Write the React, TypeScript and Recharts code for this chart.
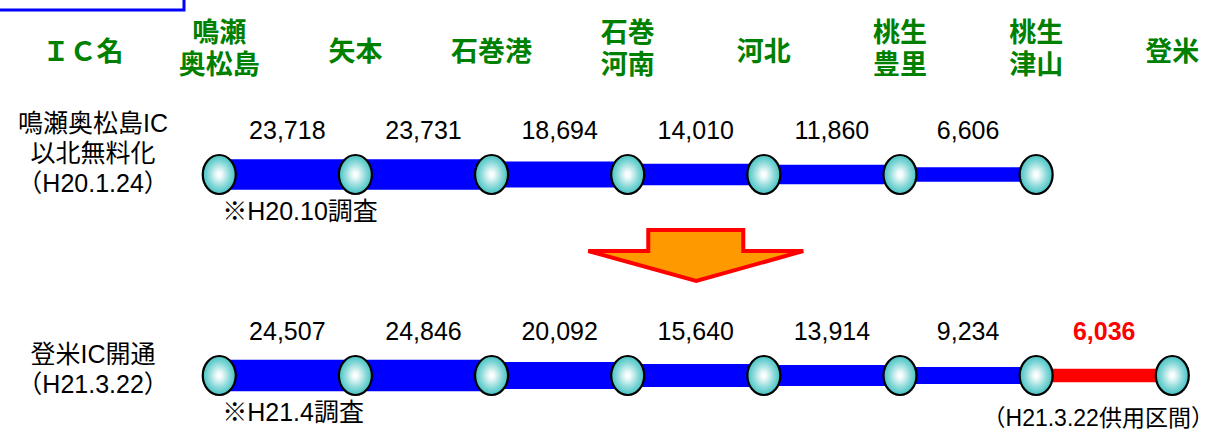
import React from 'react';
import { ComposedChart, XAxis, YAxis, Line, Scatter, Customized } from 'recharts';

// ---------- data ----------
const icNames = ['ＩＣ名', '鳴瀬\n奥松島', '矢本', '石巻港', '石巻\n河南', '河北', '桃生\n豊里', '桃生\n津山', '登米'];
const icIndex = [0, 1, 2, 3, 4, 5, 6, 7, 8];

const rowLabels = [
  ['鳴瀬奥松島IC', '以北無料化', '（H20.1.24）'],
  ['登米IC開通', '（H21.3.22）'],
];

// traffic volume (vehicles/day) per section, starting at 鳴瀬奥松島 (IC index 1)
const beforeValues = [23718, 23731, 18694, 14010, 11860, 6606];
const afterValues = [24507, 24846, 20092, 15640, 13914, 9234, 6036];
// section status: 'existing' or 'new' (opened H21.3.22)
const beforeStatus = ['existing', 'existing', 'existing', 'existing', 'existing', 'existing'];
const afterStatus = ['existing', 'existing', 'existing', 'existing', 'existing', 'existing', 'new'];

const notes = [
  { row: 0, at: 1, text: '※H20.10調査', kind: 'survey' },
  { row: 1, at: 1, text: '※H21.4調査', kind: 'survey' },
  { row: 1, at: 7.5, text: '（H21.3.22供用区間）', kind: 'section' },
];

// ---------- derived ----------
const rows = [
  { values: beforeValues, status: beforeStatus },
  { values: afterValues, status: afterStatus },
];

const thickness = (v: number) => 8 + 0.00095 * v;

const segments = rows.flatMap((r, ri) =>
  r.values.map((v, i) => ({
    key: `s${ri}-${i}`,
    value: v,
    status: r.status[i],
    data: [
      { x: i + 1, y: ri },
      { x: i + 2, y: ri },
    ],
  }))
);

const nodes = rows.flatMap((r, ri) =>
  Array.from({ length: r.values.length + 1 }, (_, i) => ({ x: i + 1, y: ri }))
);

const valueLabels = rows.flatMap((r, ri) =>
  r.values.map((v, i) => ({ x: i + 1.5, y: ri, value: v, status: r.status[i] }))
);

const rowLabelPoints = rowLabels.map((lines, ri) => ({ x: 0, y: ri, lines }));
const notePoints = notes.map((n) => ({ x: n.at, y: n.row, text: n.text, kind: n.kind }));
const arrowPoint = [{ x: 4.5, y: 0.5 }];

// ---------- layout ----------
const W = 1216;
const H = 437;
const AXIS_H = 100;
const PX_PER_IC = 136.15;
const X0 = 83.1;
const xDomain = [-X0 / PX_PER_IC, (W - X0) / PX_PER_IC];
const ROW_GAP = 201;
const ROW0 = 174.5;
const yDomain = [-(ROW0 - AXIS_H) / ROW_GAP, -(ROW0 - AXIS_H) / ROW_GAP + (H - AXIS_H) / ROW_GAP];

const BLACK_FONT = "'Liberation Sans', 'Noto Sans CJK JP', sans-serif";
const GREEN_FONT = "'Noto Sans CJK JP', sans-serif";

const fmt = (v: number) => v.toLocaleString('en-US');

const IcTick = (props: any) => {
  const { x, y, payload } = props;
  const name = icNames[payload.value] ?? '';
  const lines = name.split('\n');
  const first = lines.length === 2 ? 42 : 61;
  return (
    <text
      x={x}
      y={y - AXIS_H + first}
      textAnchor="middle"
      fontFamily={GREEN_FONT}
      fontWeight="bold"
      fontSize={27}
      fill="#008000"
    >
      {lines.map((l: string, i: number) => (
        <tspan key={i} x={x} dy={i === 0 ? 0 : 32}>
          {l}
        </tspan>
      ))}
    </text>
  );
};

const NodeShape = (p: any) => (
  <ellipse cx={p.cx} cy={p.cy} rx={16.5} ry={19.5} fill="url(#nodeGrad)" stroke="#000" strokeWidth={2.2} />
);

const ValueShape = (p: any) => {
  const isNew = p.payload.status === 'new';
  return (
    <text
      x={p.cx}
      y={p.cy - 35.5}
      textAnchor="middle"
      fontFamily={BLACK_FONT}
      fontSize={25}
      fontWeight={isNew ? 'bold' : 'normal'}
      fill={isNew ? '#FF0000' : '#000'}
    >
      {fmt(p.payload.value)}
    </text>
  );
};

const RowLabelShape = (p: any) => {
  const lines: string[] = p.payload.lines;
  const n = lines.length;
  const x = p.cx + 10;
  return (
    <text
      x={x}
      y={p.cy + 17.5 - (n - 1) * 30}
      textAnchor="middle"
      fontFamily={BLACK_FONT}
      fontSize={25}
      fill="#000"
    >
      {lines.map((l, i) => (
        <tspan key={i} x={x} dy={i === 0 ? 0 : 30}>
          {l}
        </tspan>
      ))}
    </text>
  );
};

const NoteShape = (p: any) => {
  const survey = p.payload.kind === 'survey';
  return (
    <text
      x={survey ? p.cx + 3 : p.cx - 6}
      y={p.cy + (survey ? 45 : 50)}
      textAnchor={survey ? 'start' : 'middle'}
      fontFamily={BLACK_FONT}
      fontSize={survey ? 25 : 23}
      fill="#000"
    >
      {p.payload.text}
    </text>
  );
};

const ArrowShape = (p: any) => {
  const cx = p.cx;
  const cy = p.cy;
  const pts = [
    [-47.5, -45],
    [47.5, -45],
    [47.5, -24],
    [107.5, -24],
    [0.5, 6],
    [-107.5, -24],
    [-47.5, -24],
  ]
    .map(([dx, dy]) => `${cx + dx},${cy + dy}`)
    .join(' ');
  return <polygon points={pts} fill="#FF9900" stroke="#FF0000" strokeWidth={4} strokeLinejoin="miter" />;
};

const Decor = () => (
  <g>
    <defs>
      <radialGradient id="nodeGrad" cx="50%" cy="50%" r="50%">
        <stop offset="0%" stopColor="#FFFFFF" />
        <stop offset="15%" stopColor="#F4FBFB" />
        <stop offset="65%" stopColor="#86D8D8" />
        <stop offset="100%" stopColor="#45C2C2" />
      </radialGradient>
    </defs>
    <rect x={-10} y={-20} width={194} height={30} fill="none" stroke="#0000FF" strokeWidth={3} />
  </g>
);

export default function App() {
  return (
    <div style={{ position: 'absolute', left: 0, top: 0, width: W, height: H, background: '#fff' }}>
      <ComposedChart width={W} height={H} margin={{ top: 0, right: 0, bottom: 0, left: 0 }}>
        <Customized component={Decor} />
        <XAxis
          type="number"
          dataKey="x"
          orientation="top"
          height={AXIS_H}
          domain={xDomain}
          allowDataOverflow
          ticks={icIndex}
          interval={0}
          tick={<IcTick />}
          tickSize={0}
          tickMargin={0}
          tickLine={false}
          axisLine={false}
        />
        <YAxis type="number" dataKey="y" domain={yDomain} allowDataOverflow reversed hide />
        {segments.map((s) => (
          <Line
            key={s.key}
            data={s.data}
            dataKey="y"
            type="linear"
            stroke={s.status === 'new' ? '#FF0000' : '#0000FF'}
            strokeWidth={thickness(s.value)}
            strokeLinecap="butt"
            dot={false}
            activeDot={false}
            isAnimationActive={false}
          />
        ))}
        <Scatter data={arrowPoint} shape={ArrowShape} isAnimationActive={false} />
        <Scatter data={nodes} shape={NodeShape} isAnimationActive={false} />
        <Scatter data={valueLabels} shape={ValueShape} isAnimationActive={false} />
        <Scatter data={rowLabelPoints} shape={RowLabelShape} isAnimationActive={false} />
        <Scatter data={notePoints} shape={NoteShape} isAnimationActive={false} />
      </ComposedChart>
    </div>
  );
}
